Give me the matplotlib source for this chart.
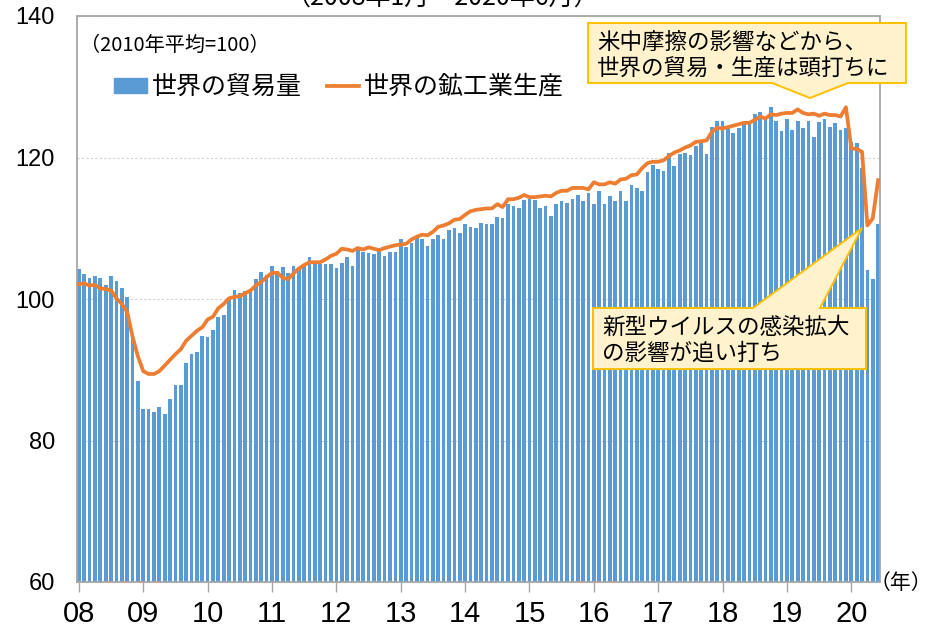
import matplotlib
matplotlib.use("Agg")
import matplotlib.pyplot as plt
from matplotlib.patches import Polygon, Patch
from matplotlib.lines import Line2D
import numpy as np

plt.rcParams['font.family'] = ['Noto Sans CJK JP', 'DejaVu Sans']

# 月次データ（2008年1月～2020年6月、2010年平均=100）
trade_volume = [
    104.3, 103.6, 102.9, 103.2, 103.0, 102.0, 103.3, 102.5, 101.5, 100.3, 94.3, 88.4,   # 2008
    84.5, 84.5, 84.0, 84.8, 83.8, 85.9, 87.8, 87.8, 90.9, 92.2, 92.5, 94.8,             # 2009
    94.6, 95.6, 97.4, 97.8, 100.1, 101.3, 100.9, 101.2, 101.2, 102.8, 103.8, 103.4,     # 2010
    104.7, 104.0, 104.5, 103.7, 104.6, 104.3, 105.0, 105.9, 105.0, 105.0, 104.9, 105.0, # 2011
    104.4, 105.1, 105.9, 104.7, 107.4, 106.7, 106.5, 106.4, 106.8, 106.1, 106.6, 106.6, # 2012
    108.5, 107.3, 107.9, 108.6, 108.5, 107.5, 108.5, 109.0, 108.5, 109.7, 110.0, 109.3, # 2013
    110.6, 110.2, 110.0, 110.8, 110.6, 110.6, 111.6, 111.5, 113.4, 113.1, 112.9, 114.0, # 2014
    114.2, 114.0, 112.8, 113.2, 111.7, 113.4, 113.8, 113.6, 114.1, 114.7, 113.9, 115.0, # 2015
    113.4, 115.2, 113.4, 114.5, 113.8, 115.3, 113.9, 116.1, 115.7, 115.2, 117.9, 119.0, # 2016
    118.4, 118.1, 120.7, 118.8, 120.5, 120.7, 120.3, 121.6, 122.1, 120.5, 124.3, 125.2, # 2017
    125.1, 124.3, 123.4, 124.1, 124.7, 124.8, 126.1, 126.4, 125.4, 127.1, 125.1, 123.8, # 2018
    125.4, 123.9, 125.1, 124.2, 125.1, 122.9, 125.0, 125.4, 124.3, 124.9, 123.9, 124.2, # 2019
    122.2, 122.0, 118.5, 104.1, 102.8, 110.6,                                           # 2020
]
industrial_production = [
    102.1, 102.2, 101.9, 102.0, 101.5, 101.4, 101.2, 100.1, 99.3, 98.2, 94.7, 91.9,
    89.8, 89.4, 89.4, 89.8, 90.6, 91.4, 92.2, 92.9, 94.1, 94.8, 95.5, 96.0,
    97.1, 97.5, 98.7, 99.3, 100.1, 100.3, 100.4, 100.8, 101.2, 101.9, 102.4, 103.1,
    103.7, 103.7, 103.0, 102.8, 103.6, 104.3, 104.8, 105.2, 105.2, 105.2, 105.6, 106.1,
    106.4, 107.1, 107.0, 106.8, 107.2, 107.0, 107.3, 107.1, 106.9, 107.2, 107.4, 107.6,
    107.7, 107.8, 108.4, 108.8, 109.1, 109.0, 109.5, 110.2, 110.4, 110.7, 111.2, 111.3,
    111.9, 112.4, 112.6, 112.7, 112.8, 112.8, 113.4, 113.0, 114.1, 114.1, 114.3, 114.7,
    114.4, 114.4, 114.5, 114.6, 114.5, 115.0, 115.3, 115.3, 115.7, 115.7, 115.7, 115.5,
    116.5, 116.2, 116.2, 116.5, 116.3, 116.9, 117.0, 117.5, 117.6, 118.5, 119.2, 119.4,
    119.4, 119.6, 120.2, 120.7, 121.0, 121.4, 121.7, 122.2, 122.3, 122.4, 123.6, 124.2,
    124.1, 124.3, 124.5, 124.7, 124.9, 124.9, 125.3, 125.8, 125.5, 126.1, 126.0, 126.2,
    126.3, 126.3, 126.8, 126.3, 126.1, 126.2, 125.9, 126.2, 126.0, 126.0, 125.8, 127.1,
    121.3, 121.2, 120.8, 110.4, 111.4, 116.8,
]
year_labels = ['08', '09', '10', '11', '12', '13', '14', '15', '16', '17', '18', '19', '20']

W, H = 936, 627
BLUE = '#5B9BD5'
ORANGE = '#ED7D31'
GRAY = '#A6A6A6'


def px(x, y):
    # ピクセル座標（左上原点）→ figure 座標
    return x / W, 1 - y / H


fig = plt.figure(figsize=(W / 100, H / 100), dpi=100)
ax = fig.add_axes([77 / W, 1 - 582 / H, 803 / W, 566 / H])

months = np.arange(len(trade_volume))
ax.bar(months, trade_volume, width=0.69, color=BLUE, zorder=2)
ax.plot(months, industrial_production, color=ORANGE, lw=2.7, zorder=3,
        solid_joinstyle='round')

ax.set_xlim(-0.35, len(trade_volume) - 0.65)
ax.set_ylim(60, 140)

ax.set_yticks([60, 80, 100, 120, 140])
ax.set_yticklabels(['60', '80', '100', '120', '140'], family='Liberation Sans', fontsize=17)
ax.tick_params(axis='y', length=0, pad=16)

ax.set_xticks(np.arange(0, len(trade_volume), 12))
ax.set_xticklabels(year_labels, family=['Liberation Sans Narrow', 'Liberation Sans'], fontsize=21)
ax.tick_params(axis='x', direction='out', length=7, width=1, color=GRAY, pad=6)

ax.yaxis.grid(True, color='#D0D0D0', lw=0.8, ls=(0, (2, 2)), zorder=0)
ax.set_axisbelow(True)
for sp in ax.spines.values():
    sp.set_color(GRAY)
    sp.set_linewidth(1.3)

# 凡例
handles = [Patch(color=BLUE), Line2D([], [], color=ORANGE, lw=2.7)]
fig.legend(handles, ['世界の貿易量', '世界の鉱工業生産'], ncol=2, frameon=False,
           fontsize=18, loc='center left', bbox_to_anchor=px(114, 87),
           bbox_transform=fig.transFigure, borderpad=0, borderaxespad=0,
           handlelength=1.3, handleheight=0.55, handletextpad=0.2, columnspacing=1.0)

fig.text(*px(80, 45), '（2010年平均=100）', fontsize=14.5, va='center', ha='left')
fig.text(*px(442, 5), '（2008年1月～2020年6月）', fontsize=18, va='baseline', ha='center')
fig.text(*px(870, 583), '（年）', fontsize=15, va='center', ha='left')

# 吹き出し
callouts = [
    ([(588, 23), (906, 23), (906, 83), (848, 83), (810, 98), (772, 83), (588, 83)],
     [(597, 42, '米中摩擦の影響などから、'), (597, 68, '世界の貿易・生産は頭打ちに')]),
    ([(593, 308), (753, 308), (862, 228), (820, 308), (866, 308), (866, 369), (593, 369)],
     [(602, 327, '新型ウイルスの感染拡大'), (602, 353, 'の影響が追い打ち')]),
]
for shape, lines in callouts:
    poly = Polygon([px(x, y) for x, y in shape], closed=True, transform=fig.transFigure,
                   facecolor='#FFF2CC', edgecolor='#FFC000', lw=1.4, zorder=10)
    fig.add_artist(poly)
    for x, y, s in lines:
        fig.text(*px(x, y), s, fontsize=16.2, va='center', ha='left', zorder=11)

fig.savefig('out.png', dpi=100)
